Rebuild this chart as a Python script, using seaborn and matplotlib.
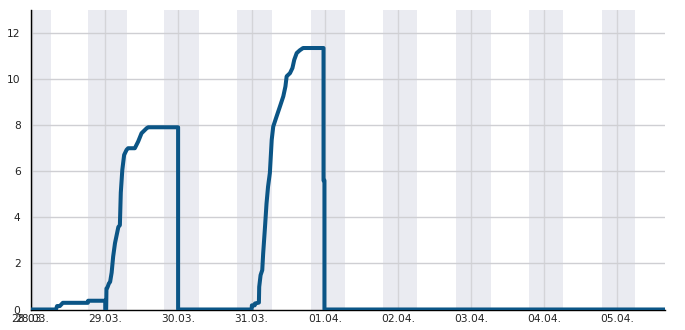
import matplotlib
matplotlib.use("Agg")
import matplotlib.pyplot as plt
import matplotlib.dates as mdates
import matplotlib.transforms as mtransforms
import seaborn as sns
import pandas as pd
import numpy as np

# ---- data ----
origin = pd.Timestamp("2020-03-28 00:00")
# hours since 28.03. 00:00 and cumulative value
hours = [-0.3, 7.84, 8.2, 9.1, 10.1, 18.3, 18.4, 24.0, 24.0, 24.3, 24.4, 24.7, 25.2,
         25.6, 26.1, 26.6, 27.2, 28.3, 28.8, 29.1, 29.6, 30.2, 31.0, 31.5, 33.7, 34.8,
         35.9, 37.6, 38.1, 47.9, 47.9,
         72.0, 72.1, 73.0, 73.1, 74.4, 74.5, 74.95, 75.5, 75.8, 76.4, 76.9, 77.4, 78.0,
         78.6, 79.1, 80.2, 81.3, 82.4, 83.1, 83.5, 84.6, 85.4, 86.0, 86.8, 87.8, 88.9,
         95.6, 95.6, 95.9, 95.9, 207.6]
values = [0.0, 0.0, 0.15, 0.15, 0.29, 0.29, 0.38, 0.38, 0.0, 0.0, 0.91, 0.95, 1.13,
          1.2, 1.6, 2.3, 2.88, 3.58, 3.66, 5.07, 6.06, 6.71, 6.93, 7.0, 7.0, 7.29,
          7.65, 7.87, 7.91, 7.91, 0.0,
          0.0, 0.18, 0.18, 0.26, 0.3, 0.98, 1.49, 1.71, 2.43, 3.58, 4.6, 5.33, 5.93,
          7.36, 7.94, 8.38, 8.81, 9.25, 9.68, 10.12, 10.26, 10.48, 10.84, 11.13, 11.25, 11.35,
          11.35, 5.6, 5.6, 0.0, 0.0]

# shaded periods (start, end)
band_starts = ["2020-03-27 19:00", "2020-03-28 18:20", "2020-03-29 19:15", "2020-03-30 19:16",
               "2020-03-31 19:26", "2020-04-01 19:03", "2020-04-02 18:59", "2020-04-03 18:55",
               "2020-04-04 18:52"]
band_ends = ["2020-03-28 06:06", "2020-03-29 07:00", "2020-03-30 06:43", "2020-03-31 06:33",
             "2020-04-01 06:29", "2020-04-02 06:12", "2020-04-03 06:22", "2020-04-04 05:59",
             "2020-04-05 05:54"]

tick_times = ["2020-03-27 23:40", "2020-03-28 00:00", "2020-03-29", "2020-03-30", "2020-03-31",
              "2020-04-01", "2020-04-02", "2020-04-03", "2020-04-04", "2020-04-05"]
tick_labels = ["28.03.", "28.03.", "29.03.", "30.03.", "31.03.", "01.04.", "02.04.",
               "03.04.", "04.04.", "05.04."]
grid_days = ["2020-03-28", "2020-03-29", "2020-03-30", "2020-03-31", "2020-04-01",
             "2020-04-02", "2020-04-03", "2020-04-04", "2020-04-05"]

# ---- plot ----
sns.set_theme(style="white")
plt.rcParams['font.family'] = ['DejaVu Sans']

df = pd.DataFrame({"time": origin + pd.to_timedelta(hours, unit="h"), "value": values})

fig = plt.figure(figsize=(6.85, 3.3), dpi=100)
ax = fig.add_axes([31/685, 1 - 309.5/330, (665-31)/685, (309.5-10)/330])

for s, e in zip(band_starts, band_ends):
    ax.axvspan(pd.Timestamp(s), pd.Timestamp(e), color="#eaebf1", lw=0, zorder=0)

for d in grid_days:
    ax.axvline(pd.Timestamp(d), color="#d4d4d8", lw=1, zorder=1)
for yv in range(2, 13, 2):
    ax.axhline(yv, color="#cfcfd3", lw=1, zorder=1)

sns.lineplot(data=df, x="time", y="value", ax=ax, sort=False, color="#0b5586",
             lw=2.9, zorder=3, estimator=None)

ax.set_xlim(origin + pd.Timedelta(hours=-0.35), origin + pd.Timedelta(hours=207.6))
ax.set_ylim(0, 13)
ax.set_xlabel("")
ax.set_ylabel("")

ax.set_xticks([mdates.date2num(pd.Timestamp(t)) for t in tick_times])
ax.set_xticklabels(tick_labels, fontsize=7.7, color="#222222")
ax.set_yticks(range(0, 14))
ax.set_yticklabels([str(v) if v % 2 == 0 else "" for v in range(0, 14)], fontsize=7.7,
                   color="#222222")
ax.tick_params(axis="x", direction="in", length=4, width=1, color="black", pad=3)
ax.tick_params(axis="y", direction="out", length=3.5, width=1, color="black", pad=4)

# the first (axis-start) label sits a few pixels left, overlapping the midnight label
lbls = ax.get_xticklabels()
lbls[0].set_transform(lbls[0].get_transform() +
                      mtransforms.ScaledTranslation(-3/100, 0, fig.dpi_scale_trans))

for side in ["top", "right"]:
    ax.spines[side].set_visible(False)
for side in ["left", "bottom"]:
    ax.spines[side].set_color("black")
    ax.spines[side].set_linewidth(1)
    ax.spines[side].set_zorder(2)
ax.grid(False)

fig.savefig("out.png", dpi=100)
